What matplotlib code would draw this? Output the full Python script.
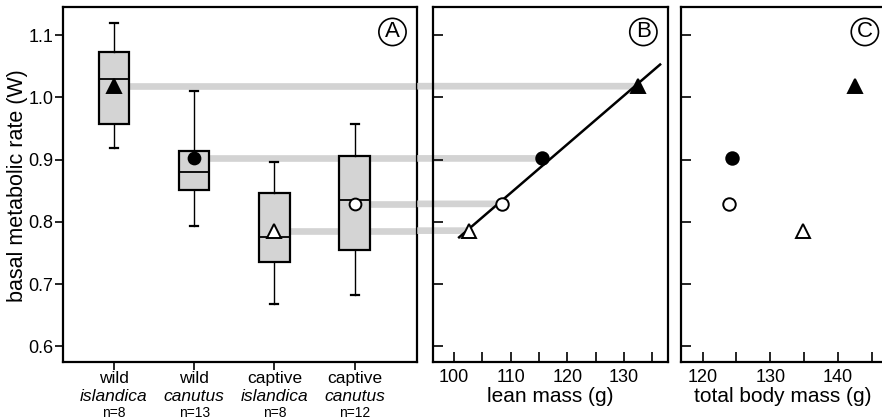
import numpy as np
import matplotlib
matplotlib.use("Agg")
import matplotlib.pyplot as plt
from matplotlib.patches import ConnectionPatch

plt.rcParams['font.family'] = ['Liberation Sans', 'DejaVu Sans']

# ---- data ----
groups = ["wild", "wild", "captive", "captive"]
subspecies = ["islandica", "canutus", "islandica", "canutus"]
n_labels = ["n=8", "n=13", "n=8", "n=12"]
whisker_low = [0.918, 0.793, 0.668, 0.683]
q1 = [0.957, 0.852, 0.736, 0.755]
medians = [1.029, 0.880, 0.775, 0.835]
q3 = [1.073, 0.914, 0.847, 0.906]
whisker_high = [1.119, 1.011, 0.897, 0.958]
means = [1.018, 0.902, 0.786, 0.829]
markers = ["^", "o", "^", "o"]
filled = [True, True, False, False]

lean_mass = [132.5, 115.5, 102.6, 108.5]
total_mass = [142.5, 124.3, 134.8, 123.9]
fit_range = [100.9, 136.4]

yticks = [0.6, 0.7, 0.8, 0.9, 1.0, 1.1]

# ---- figure ----
fig = plt.figure(figsize=(8.82, 4.19), dpi=100)
axA = fig.add_axes([0.0714, 0.136, 0.4017, 0.847])
axB = fig.add_axes([0.491, 0.136, 0.2664, 0.847])
axC = fig.add_axes([0.772, 0.136, 0.232, 0.847])

ylim = (0.575, 1.145)
xlimA = (0.366, 4.78)
box_fill = '#d4d4d4'
band_col = '#d3d3d3'
fs = 13
lfs = 15

pos = np.arange(1, 5)
bw = 0.38

# Panel A boxes
stats = []
for i in range(4):
    stats.append(dict(med=medians[i], q1=q1[i], q3=q3[i],
                      whislo=whisker_low[i], whishi=whisker_high[i], label=""))
axA.bxp(stats, positions=pos, widths=bw, patch_artist=True, showfliers=False,
        boxprops=dict(facecolor=box_fill, edgecolor='black', linewidth=1.6),
        medianprops=dict(color='black', linewidth=1.3),
        whiskerprops=dict(color='black', linewidth=1.0),
        capprops=dict(color='black', linewidth=1.6),
        capwidths=0.1, zorder=3)

for i in range(4):
    axA.plot(pos[i], means[i], marker=markers[i], ms=9.5 if markers[i] == '^' else 8.5,
             mfc='black' if filled[i] else 'white', mec='black', mew=1.4,
             linestyle='none', zorder=5)

# bands: inside A (behind boxes), then across the gap into B
for i in range(4):
    axA.hlines(means[i], pos[i] + bw / 2, xlimA[1], colors=band_col,
               linewidth=4.8, zorder=1)
    con = ConnectionPatch(xyA=(xlimA[1], means[i]), coordsA=axA.transData,
                          xyB=(lean_mass[i], means[i]), coordsB=axB.transData,
                          color=band_col, linewidth=4.8, capstyle='butt')
    con.set_zorder(1)
    con.set_clip_on(False)
    axB.add_artist(con)

axA.set_xlim(*xlimA)
axA.set_ylim(*ylim)
axA.set_yticks(yticks)
axA.set_yticklabels([f"{v:.1f}" for v in yticks], fontsize=fs)
axA.set_xticks(pos)
axA.set_xticklabels([])
axA.tick_params(axis='both', direction='out', length=6, width=1.2)
axA.tick_params(axis='y', pad=1)
axA.set_ylabel("basal metabolic rate (W)", fontsize=lfs + 0.5)
axA.yaxis.set_label_coords(-0.100, 0.497)
for i in range(4):
    axA.text(pos[i], -0.046, groups[i], transform=axA.get_xaxis_transform(),
             ha='center', va='center', fontsize=fs - 0.5)
    axA.text(pos[i], -0.096, subspecies[i], transform=axA.get_xaxis_transform(),
             ha='center', va='center', fontsize=fs - 0.5, style='italic')
    axA.text(pos[i], -0.143, n_labels[i], transform=axA.get_xaxis_transform(),
             ha='center', va='center', fontsize=fs - 3)

# Panel B
coef = np.polyfit(lean_mass, means, 1)
xx = np.array(fit_range)
axB.plot(xx, np.polyval(coef, xx), color='black', linewidth=1.8, zorder=3)
for i in range(4):
    axB.plot(lean_mass[i], means[i], marker=markers[i], ms=10 if markers[i] == '^' else 9,
             mfc='black' if filled[i] else 'white', mec='black', mew=1.4,
             linestyle='none', zorder=5)
axB.set_xlim(96.3, 137.8)
axB.set_ylim(*ylim)
axB.set_yticks(yticks)
axB.set_yticklabels([])
axB.set_xticks(np.arange(100, 136, 5))
axB.set_xticklabels(["100", "", "110", "", "120", "", "130", ""], fontsize=fs)
axB.set_xlabel("lean mass (g)", fontsize=lfs, labelpad=1)
axB.patch.set_alpha(0)

# Panel C
for i in range(4):
    axC.plot(total_mass[i], means[i], marker=markers[i], ms=10 if markers[i] == '^' else 9,
             mfc='black' if filled[i] else 'white', mec='black', mew=1.4,
             linestyle='none', zorder=5)
axC.set_xlim(116.8, 147.0)
axC.set_ylim(*ylim)
axC.set_yticks(yticks)
axC.set_yticklabels([])
axC.set_xticks(np.arange(120, 146, 5))
axC.set_xticklabels(["120", "", "130", "", "140", ""], fontsize=fs)
axC.set_xlabel("total body mass (g)", fontsize=lfs, labelpad=1)
axC.spines['right'].set_visible(False)

for ax in (axB, axC):
    ax.tick_params(axis='both', direction='in', length=7, width=1.2)
    ax.tick_params(axis='x', pad=5)

for ax in (axA, axB, axC):
    for s in ax.spines.values():
        s.set_linewidth(1.6)

# panel letters
for ax, lab, xf in ((axA, "A", 0.93), (axB, "B", 0.895), (axC, "C", 0.899)):
    ax.text(xf, 0.93, lab, transform=ax.transAxes, ha='center', va='center',
            fontsize=fs + 3,
            bbox=dict(boxstyle='circle,pad=0.14', fc='white', ec='black', lw=1.2))

fig.savefig("out.png", dpi=100)
